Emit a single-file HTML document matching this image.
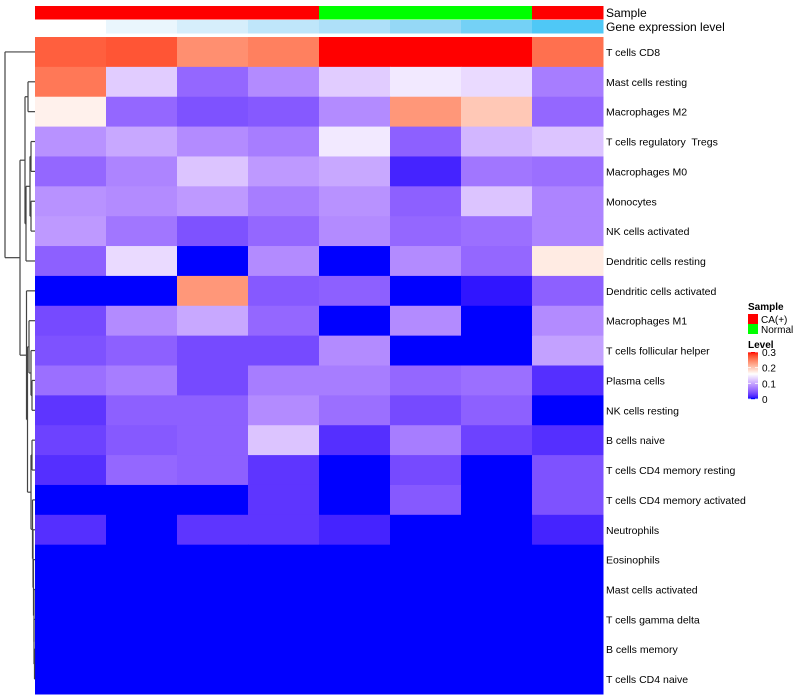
<!DOCTYPE html>
<html><head><meta charset="utf-8"><style>
body{margin:0;background:#fff;}
svg{display:block;font-family:"Liberation Sans",Arial,sans-serif;}
text{white-space:pre;}
</style></head><body>
<svg id="chart" width="800" height="700"></svg>
<script>
const rowLabels=["T cells CD8","Mast cells resting","Macrophages M2","T cells regulatory  Tregs","Macrophages M0","Monocytes","NK cells activated","Dendritic cells resting","Dendritic cells activated","Macrophages M1","T cells follicular helper","Plasma cells","NK cells resting","B cells naive","T cells CD4 memory resting","T cells CD4 memory activated","Neutrophils","Eosinophils","Mast cells activated","T cells gamma delta","B cells memory","T cells CD4 naive"];
const sampleGroups=["CA(+)","CA(+)","CA(+)","CA(+)","Normal","Normal","Normal","CA(+)"];
const geneLevelColors=["#ffffff","#eaf6fd","#d6eefb","#bfe6fa","#aee0f9","#95d8f6","#74d1f6","#4fc8f6"];
const values=[
[0.27,0.275,0.24,0.25,0.3,0.3,0.3,0.26],
[0.255,0.125,0.055,0.08,0.125,0.145,0.135,0.07],
[0.17,0.055,0.04,0.045,0.08,0.235,0.2,0.055],
[0.085,0.1,0.08,0.07,0.145,0.05,0.11,0.12],
[0.055,0.075,0.12,0.09,0.1,0.012,0.065,0.06],
[0.085,0.08,0.09,0.07,0.085,0.05,0.12,0.075],
[0.09,0.065,0.04,0.055,0.08,0.055,0.06,0.075],
[0.05,0.135,0,0.08,0,0.08,0.055,0.175],
[0,0,0.235,0.045,0.05,0,0.006,0.05],
[0.035,0.08,0.1,0.055,0,0.08,0,0.08],
[0.04,0.05,0.035,0.035,0.08,0,0,0.095],
[0.06,0.07,0.035,0.07,0.07,0.055,0.06,0.018],
[0.022,0.05,0.05,0.08,0.06,0.035,0.05,0],
[0.03,0.045,0.05,0.12,0.018,0.07,0.03,0.018],
[0.018,0.055,0.05,0.022,0,0.035,0,0.04],
[0,0,0,0.022,0,0.045,0,0.04],
[0.018,0,0.022,0.022,0.012,0,0,0.012],
[0,0,0,0,0,0,0,0],
[0,0,0,0,0,0,0,0],
[0,0,0,0,0,0,0,0],
[0,0,0,0,0,0,0,0],
[0,0,0,0,0,0,0,0]];
const legendTicks=[0,0.1,0.2,0.3];

const NS="http://www.w3.org/2000/svg";
const svg=document.getElementById('chart');
function mk(t,a,p){const e=document.createElementNS(NS,t);for(const k in a)e.setAttribute(k,a[k]);(p||svg).appendChild(e);return e;}
function s2l(c){c/=255;return c<=0.04045?c/12.92:Math.pow((c+0.055)/1.055,2.4);}
function l2s(c){c=c<=0.0031308?12.92*c:1.055*Math.pow(c,1/2.4)-0.055;return Math.max(0,Math.min(255,Math.round(c*255)));}
function toLab(r,g,b){r=s2l(r);g=s2l(g);b=s2l(b);let x=(0.4124*r+0.3576*g+0.1805*b)/0.95047,y=0.2126*r+0.7152*g+0.0722*b,z=(0.0193*r+0.1192*g+0.9505*b)/1.08883;const f=t=>t>0.008856?Math.cbrt(t):7.787*t+16/116;x=f(x);y=f(y);z=f(z);return[116*y-16,500*(x-y),200*(y-z)];}
function fromLab(L,a,b){let y=(L+16)/116,x=a/500+y,z=y-b/200;const fi=t=>t*t*t>0.008856?t*t*t:(t-16/116)/7.787;x=fi(x)*0.95047;y=fi(y);z=fi(z)*1.08883;const r=3.2406*x-1.5372*y-0.4986*z,g=-0.9689*x+1.8758*y+0.0415*z,bb=0.0557*x-0.2040*y+1.0570*z;return`rgb(${l2s(r)},${l2s(g)},${l2s(bb)})`;}
const cBlue=toLab(0,0,255),cWhite=toLab(255,255,255),cRed=toLab(255,0,0);
const brk=[0,0.16,0.3];
function colorOf(v){let a,b,t;if(v<=brk[1]){a=cBlue;b=cWhite;t=Math.max(0,v-brk[0])/(brk[1]-brk[0]);}else{a=cWhite;b=cRed;t=Math.min(1,(v-brk[1])/(brk[2]-brk[1]));}return fromLab(a[0]+(b[0]-a[0])*t,a[1]+(b[1]-a[1])*t,a[2]+(b[2]-a[2])*t);}

const x0=35,x1=603,y0=37,y1=694;
const nC=sampleGroups.length,nR=rowLabels.length;
const cw=(x1-x0)/nC,rh=(y1-y0)/nR;
const colX=j=>x0+j*cw, rowY=i=>y0+i*rh;

const sampleColor={"CA(+)":"#ff0000","Normal":"#00ff00"};
sampleGroups.forEach((g,j)=>{
  const r=mk('rect',{x:colX(j),y:6,width:cw+0.5,height:13.5,fill:sampleColor[g]});
  
  
});
geneLevelColors.forEach((c,j)=>{
  const r=mk('rect',{x:colX(j),y:20,width:cw+0.5,height:13.5,fill:c});
  
  
});
let t=mk('text',{x:606,y:17,'font-size':12,fill:'#000'});t.textContent='Sample';

t=mk('text',{x:606,y:31,'font-size':12,fill:'#000'});t.textContent='Gene expression level';


values.forEach((row,i)=>{row.forEach((v,j)=>{
  const r=mk('rect',{x:colX(j),y:rowY(i),width:cw+0.5,height:rh+0.5,fill:colorOf(v)});
  
  
});
  const l=mk('text',{x:606,y:rowY(i)+rh/2+4,'font-size':10.5,fill:'#000'});
  l.textContent=rowLabels[i];
  
  
});

const tree={h:5,c:[0,{h:20,c:[
  {h:25,c:[{h:28,c:[1,2]},{h:26,c:[{h:30,c:[{h:31,c:[3,4]},{h:31,c:[5,6]}]},7]}]},
  {h:26.5,c:[8,{h:27.5,c:[{h:29,c:[9,{h:31,c:[10,{h:32,c:[11,12]}]}]},{h:31,c:[{h:32,c:[13,14]},{h:32.5,c:[15,{h:33,c:[16,{h:33.5,c:[17,{h:34,c:[18,{h:34,c:[19,{h:34.5,c:[20,21]}]}]}]}]}]}]}]}]}
]}]};
const dg=mk('g',{stroke:'#444','stroke-width':1.2,fill:'none'});


function draw(n){
  if(typeof n==='number')return{y:rowY(n)+rh/2,x:x0};
  const ch=n.c.map(draw);
  const ys=ch.map(c=>c.y);
  mk('line',{x1:n.h,x2:n.h,y1:Math.min(...ys),y2:Math.max(...ys)},dg);
  ch.forEach(c=>mk('line',{x1:n.h,x2:c.x,y1:c.y,y2:c.y},dg));
  return{y:(Math.min(...ys)+Math.max(...ys))/2,x:n.h};
}
draw(tree);

t=mk('text',{x:748,y:310,'font-size':10,'font-weight':'bold'});t.textContent='Sample';

["CA(+)","Normal"].forEach((g,k)=>{
  const r=mk('rect',{x:748,y:314+k*10,width:10,height:10,fill:sampleColor[g]});
  
  const tx=mk('text',{x:761,y:323+k*10,'font-size':10});tx.textContent=g;
  
});
t=mk('text',{x:748,y:348,'font-size':10,'font-weight':'bold'});t.textContent='Level';

const ly0=352,ly1=399,lmax=0.3;
for(let k=0;k<47;k++){
  const v=lmax*(1-k/46);
  mk('rect',{x:748,y:ly0+k,width:10,height:1.2,fill:colorOf(v)});
}
legendTicks.forEach(v=>{
  const y=ly1-(v/lmax)*(ly1-ly0);
  mk('line',{x1:748,x2:751,y1:y,y2:y,stroke:'#fff','stroke-width':0.8});
  mk('line',{x1:755,x2:758,y1:y,y2:y,stroke:'#fff','stroke-width':0.8});
  const tx=mk('text',{x:762,y:y+4,'font-size':10});tx.textContent=String(v);
  
});
</script>
</body></html>
